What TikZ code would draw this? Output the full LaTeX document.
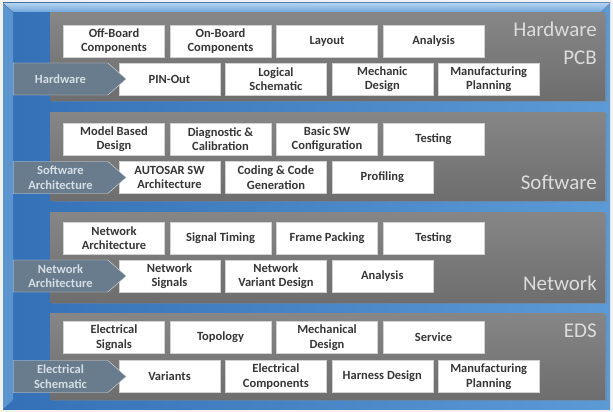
\documentclass[tikz,border=0pt]{standalone}
\usepackage{fontspec}
\setmainfont{Carlito}
\usetikzlibrary{shapes.symbols,shadows}

\definecolor{bgdark}{HTML}{3470B6}
\definecolor{bglight}{HTML}{5C9AD6}
\definecolor{bevel}{HTML}{B4D2EE}
\definecolor{sidebevel}{HTML}{5A95CF}
\definecolor{paneltop}{HTML}{868686}
\definecolor{panelbot}{HTML}{6E6E6E}
\definecolor{itemtext}{HTML}{363636}
\definecolor{tagfill}{HTML}{687C8D}
\definecolor{tagtext}{HTML}{D6DEE6}
\definecolor{titletext}{HTML}{DCDCDC}

\tikzset{
  panel/.style={top color=paneltop, bottom color=panelbot,
    drop shadow={shadow xshift=1.5pt, shadow yshift=-2pt, opacity=.45}},
  item/.style={draw=gray!35, fill=white, minimum width=101pt, minimum height=32pt,
    inner sep=1pt, align=center, text=itemtext,
    font=\fontsize{12.5}{14.5}\selectfont\bfseries},
  tag/.style={signal, signal to=east, signal pointer angle=82, draw=gray!25, fill=tagfill,
    minimum width=113pt, minimum height=32pt, inner sep=0pt, align=center, text=tagtext,
    font=\fontsize{12.5}{14.5}\selectfont\bfseries},
  title/.style={text=titletext, align=right, inner sep=0pt,
    font=\fontsize{21}{28}\selectfont}
}

\begin{document}
\begin{tikzpicture}[x=1pt, y=-1pt]
    \useasboundingbox (0,0) rectangle (613,412);
    % Background
    \fill[white!90!gray] (0,0) rectangle (613,412);
    \fill[left color=bgdark, right color=bglight] (3,3) rectangle (610,409);
    \fill[sidebevel] (3,3) -- (13,13) -- (13,400) -- (3,409) -- cycle;
    \fill[top color=bevel, bottom color=bglight!75!bevel] (3,3) -- (610,3) -- (601,12) -- (13,12) -- cycle;

    % Panels
    \fill[panel] (50,13) rectangle (605,100);
    \fill[panel] (50,112) rectangle (605,200);
    \fill[panel] (50,212) rectangle (605,302);
    \fill[panel] (50,313) rectangle (605,399);

    % Hardware PCB
    \foreach \t [count=\i] in {{Off-Board\\Components}, {On-Board\\Components}, Layout, Analysis}
        \node[item] (hw-a\i) at ({114+(\i-1)*106.5}, 41) {\t};
    \foreach \t [count=\i] in {PIN-Out, {Logical\\Schematic}, {Mechanic\\Design}, {Manufacturing\\Planning}}
        \node[item] (hw-b\i) at ({169.5+(\i-1)*106.4}, 79) {\t};
    \node[tag] (hw-tag) at (60.5,79) {Hardware};
    \node[title, anchor=north east] (hw-title) at (597,22) {Hardware\\PCB};

    % Software
    \foreach \t [count=\i] in {{Model Based\\Design}, {Diagnostic \&\\Calibration}, {Basic SW\\Configuration}, Testing}
        \node[item] (sw-a\i) at ({114+(\i-1)*106.5}, 139) {\t};
    \foreach \t [count=\i] in {{AUTOSAR SW\\Architecture}, {Coding \& Code\\Generation}, Profiling}
        \node[item] (sw-b\i) at ({169.5+(\i-1)*106.4}, 177.5) {\t};
    \node[tag] (sw-tag) at (60.5,177.5) {Software\\Architecture};
    \node[title, anchor=east] (sw-title) at (597,182) {Software};

    % Network
    \foreach \t [count=\i] in {{Network\\Architecture}, Signal Timing, Frame Packing, Testing}
        \node[item] (nw-a\i) at ({114+(\i-1)*106.5}, 238) {\t};
    \foreach \t [count=\i] in {{Network\\Signals}, {Network\\Variant Design}, Analysis}
        \node[item] (nw-b\i) at ({169.5+(\i-1)*106.4}, 276) {\t};
    \node[tag] (nw-tag) at (60.5,276) {Network\\Architecture};
    \node[title, anchor=east] (nw-title) at (597,283) {Network};

    % EDS
    \foreach \t [count=\i] in {{Electrical\\Signals}, Topology, {Mechanical\\Design}, Service}
        \node[item] (eds-a\i) at ({114+(\i-1)*106.5}, 337.5) {\t};
    \foreach \t [count=\i] in {Variants, {Electrical\\Components}, Harness Design, {Manufacturing\\Planning}}
        \node[item] (eds-b\i) at ({169.5+(\i-1)*106.4}, 376.5) {\t};
    \node[tag] (eds-tag) at (60.5,376.5) {Electrical\\Schematic};
    \node[title, anchor=east] (eds-title) at (597,331) {EDS};
\end{tikzpicture}
\end{document}
